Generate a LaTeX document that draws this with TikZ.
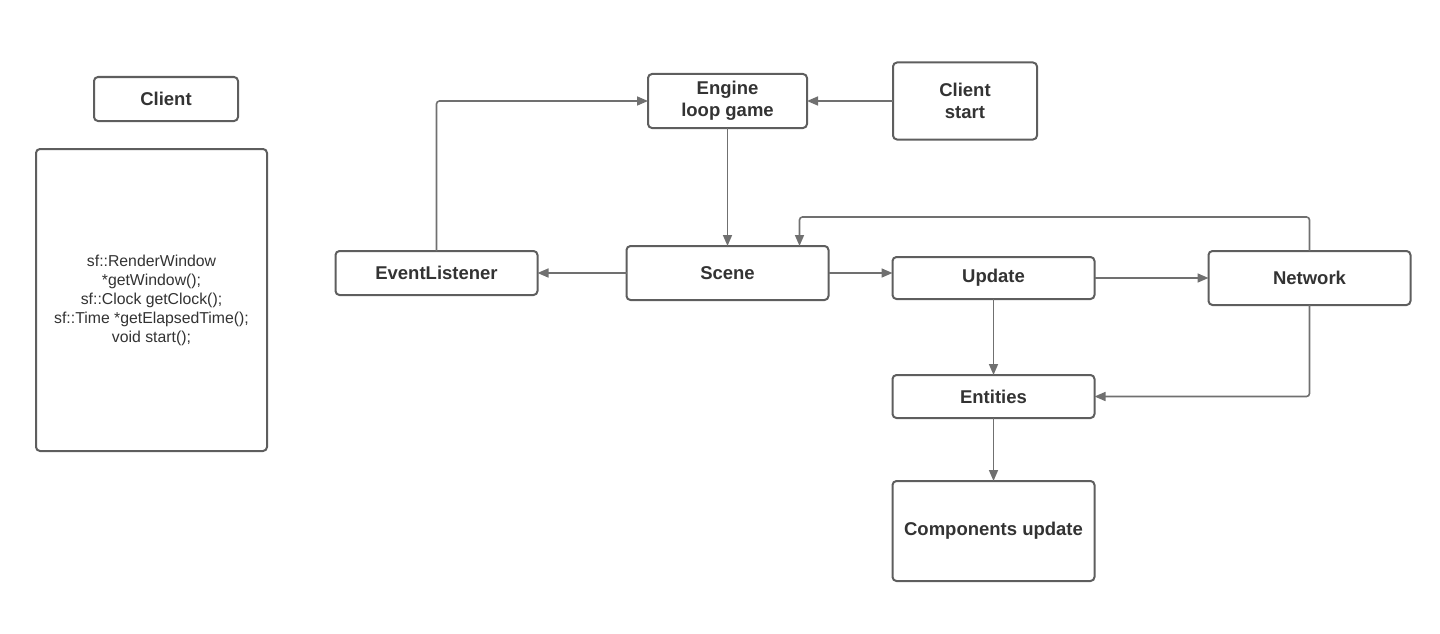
\documentclass[tikz,border=0pt]{standalone}
\usepackage{fontspec}
\setmainfont{Liberation Sans}
\usepackage{tikz}
\usetikzlibrary{positioning}
\usetikzlibrary{arrows.meta}
\definecolor{boxline}{HTML}{5E5E5E}
\definecolor{arrline}{HTML}{707070}
\definecolor{txt}{HTML}{333333}
\tikzset{box/.style={draw=boxline,line width=2pt,rounded corners=4pt,fill=white,text=txt,outer sep=0pt,inner sep=0pt,align=center,minimum width=202pt,font=\fontsize{18.5}{22.5}\selectfont\bfseries},
	link/.style={draw=arrline,line width=1.6pt,-{Triangle[length=11pt,width=9pt]},rounded corners=3pt},}

\begin{document}
\begin{tikzpicture}[node distance=2cm]
		\useasboundingbox (0,0) rectangle (1440pt,-634pt);
		\node[box, minimum width=144pt, minimum height=44pt] (client) at (166pt,-99pt) {Client};
		\node[box, minimum width=231pt, minimum height=302pt, font=\fontsize{15.8}{19}\selectfont] (clbox) at (151.5pt,-300pt) {sf::RenderWindow\\*getWindow();\\sf::Clock getClock();\\sf::Time *getElapsedTime();\\void start();};
		\node[box, minimum width=159pt, minimum height=54pt] (eng) at (727.5pt,-101pt) {Engine\\loop game};
	    \node[box, minimum width=144pt, minimum height=77pt] (cstart) [right = 86pt of eng] {Client\\start};
	    \node[box, minimum height=54pt] (scene) [below = 118pt of eng] {Scene};
	    \node[box, minimum height=44pt] (evl) [left = 89pt of scene] {EventListener};
	    \node[box, minimum height=42pt] (upd) [right = 64pt of scene, yshift=-5pt] {Update};
	    \node[box, minimum height=54pt] (net) [right = 114pt of upd] {Network};
	    \node[box, minimum height=43pt] (ent) [below = 76pt of upd] {Entities};
	    \node[box, minimum height=100pt] (comp) [below = 63pt of ent] {Components update};
	
	    \draw[link] (cstart.west) -- (eng.east);
	    \draw[link] (evl.north) |- (eng.west);
	    \draw[link] (eng.south) -- (scene.north);
	    \draw[link] (scene.west) -- (evl.east);
	    \draw[link] (scene.east) -- (scene.east -| upd.west);
	    \draw[link] (upd.east) -- (net.west);
	    \draw[link] (net.north) -- ++(0,34pt) -| ([xshift=72pt]scene.north);
	    \draw[link] (upd.south) -- (ent.north);
	    \draw[link] (net.south) |- (ent.east);
	    \draw[link] (ent.south) -- (comp.north);
\end{tikzpicture}
\end{document}
